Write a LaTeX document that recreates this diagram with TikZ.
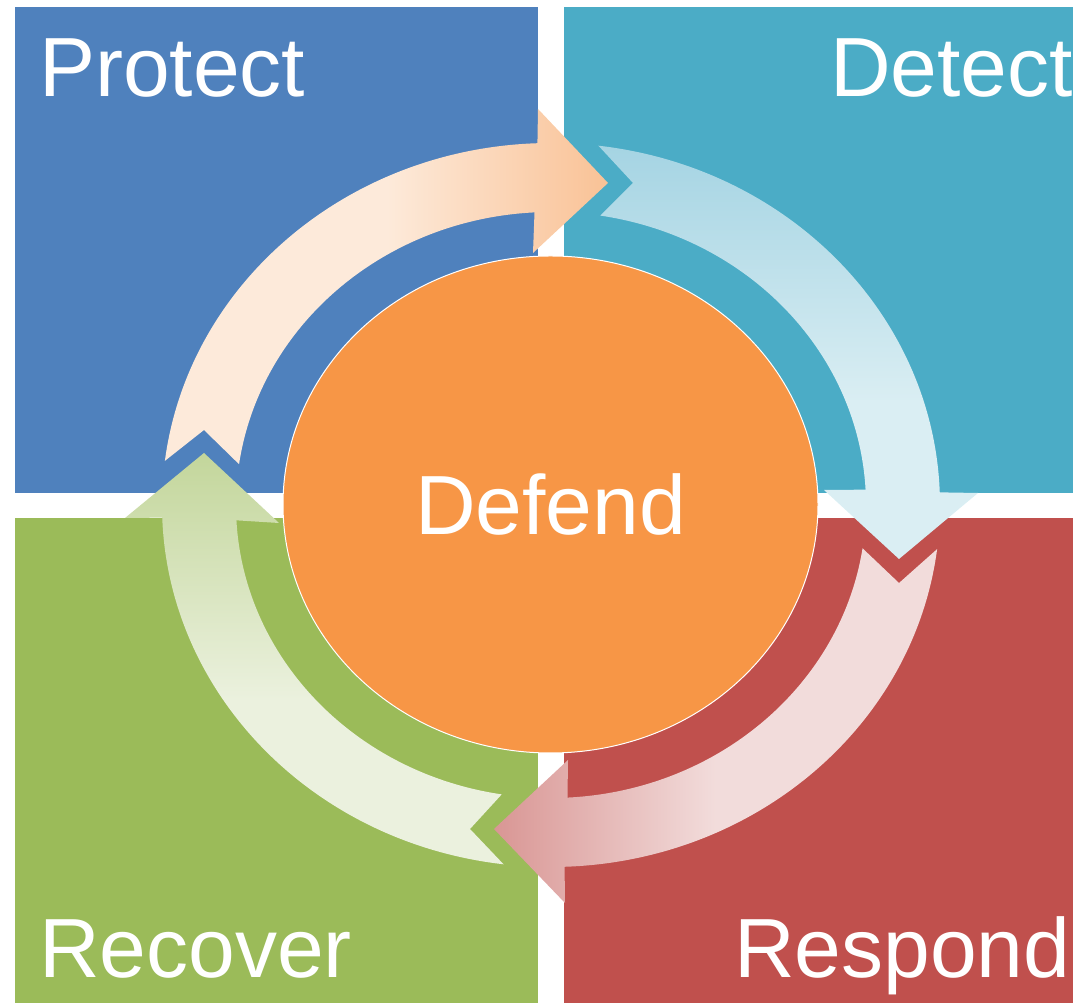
\documentclass[tikz,border=0pt]{standalone}
\usepackage{fontspec}
\setmainfont{Liberation Sans}
\usepackage{color}
\definecolor{protectblue}{RGB}{79,129,189}
\definecolor{detectteal}{RGB}{75,172,198}
\definecolor{recovergreen}{RGB}{155,187,89}
\definecolor{respondred}{RGB}{192,80,77}
\definecolor{defendorange}{RGB}{247,150,70}
\definecolor{protectlight}{RGB}{253,234,218}
\definecolor{protectdark}{RGB}{249,194,150}
\definecolor{detectlight}{RGB}{218,238,243}
\definecolor{detectdark}{RGB}{165,212,227}
\definecolor{respondlight}{RGB}{242,220,219}
\definecolor{responddark}{RGB}{217,150,148}
\definecolor{recoverlight}{RGB}{235,241,222}
\definecolor{recoverdark}{RGB}{195,214,155}
\usepackage{tikz}
\usetikzlibrary{calc,shapes.geometric,positioning}
\tikzstyle{quadrant}=[rectangle,minimum width=523pt,minimum height=486pt,inner sep=0pt,outer sep=0pt]
\tikzstyle{lbl}=[text=white,font=\fontsize{84pt}{100pt}\selectfont,inner sep=0pt]
\tikzstyle{defendvertex}=[ellipse,draw=white,line width=1pt,fill=defendorange,minimum width=535pt,minimum height=497pt,inner sep=0pt,text=white,font=\fontsize{84pt}{100pt}\selectfont]
\pgfdeclarehorizontalshading{protectshade}{100bp}{color(0bp)=(protectlight); color(50bp)=(protectlight); color(75bp)=(protectdark); color(100bp)=(protectdark)}
\pgfdeclareverticalshading{detectshade}{100bp}{color(0bp)=(detectlight); color(44bp)=(detectlight); color(75bp)=(detectdark); color(100bp)=(detectdark)}
\pgfdeclarehorizontalshading{respondshade}{100bp}{color(0bp)=(responddark); color(25bp)=(responddark); color(50bp)=(respondlight); color(100bp)=(respondlight)}
\pgfdeclareverticalshading{recovershade}{100bp}{color(0bp)=(recoverlight); color(45bp)=(recoverlight); color(75bp)=(recoverdark); color(100bp)=(recoverdark)}
\begin{document}
\begin{tikzpicture}[x=1pt,y=1pt]
\useasboundingbox (0,0) rectangle (1073,1003);
\node [quadrant, fill=protectblue, anchor=north west] (protect) at (15,996) {};
\node [quadrant, fill=detectteal, right=26pt of protect] (detect) {};
\node [quadrant, fill=recovergreen, below=25pt of protect] (recover) {};
\node [quadrant, fill=respondred, below=25pt of detect] (respond) {};
\node [lbl, anchor=base west] (protectlbl) at (39,906) {Protect};
\node [lbl, anchor=base west] (detectlbl) at (830,906) {Detect};
\node [lbl, anchor=base west] (recoverlbl) at (39,25) {Recover};
\node [lbl, anchor=base west] (respondlbl) at (734,25) {Respond};
\node [defendvertex] (defend) at (550.5,498.5) {Defend};
\coordinate (c) at (551,498);
\shade [shading=protectshade] ($(c)+(173:389pt and 362pt)$) arc[start angle=173,end angle=92,x radius=389pt,y radius=362pt]
  -- (538,894) -- (608,820) -- (533,750)
  -- ($(c)+(93:315pt and 293pt)$) arc[start angle=93,end angle=172,x radius=315pt,y radius=293pt]
  -- (204,573) -- cycle;
\shade [shading=detectshade] ($(c)+(83:389pt and 362pt)$) arc[start angle=83,end angle=2,x radius=389pt,y radius=362pt]
  -- (978,510) -- (899,444) -- (824,513)
  -- ($(c)+(3:315pt and 293pt)$) arc[start angle=3,end angle=81,x radius=315pt,y radius=293pt]
  -- (633,820) -- cycle;
\shade [shading=respondshade] ($(c)+(-7:389pt and 362pt)$) arc[start angle=-7,end angle=-88,x radius=389pt,y radius=362pt]
  -- (565,100) -- (494,174) -- (568,243)
  -- ($(c)+(-87:315pt and 293pt)$) arc[start angle=-87,end angle=-8.5,x radius=315pt,y radius=293pt]
  -- (899,420) -- cycle;
\shade [shading=recovershade] ($(c)+(-97:389pt and 362pt)$) arc[start angle=-97,end angle=-178,x radius=389pt,y radius=362pt]
  -- (125,485) -- (204,550) -- (279,480)
  -- ($(c)+(-177:315pt and 293pt)$) arc[start angle=-177,end angle=-99,x radius=315pt,y radius=293pt]
  -- (470,174) -- cycle;
\end{tikzpicture}
\end{document}
